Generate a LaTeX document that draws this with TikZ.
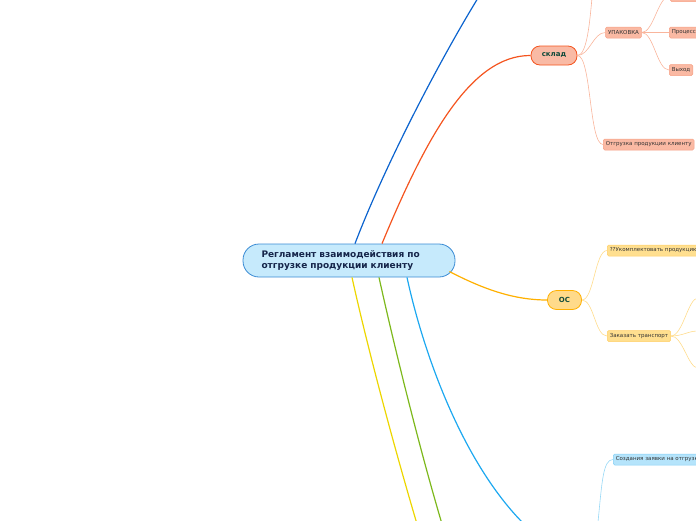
\documentclass[tikz,border=0pt]{standalone}
\usepackage{fontspec}
\setmainfont{DejaVu Sans}
\usepackage{xcolor}
\usepackage{tikz}
\usetikzlibrary{positioning,calc}
\definecolor{rootFill}{HTML}{C6EAFC}
\definecolor{rootLine}{HTML}{3A8BD4}
\definecolor{rootText}{HTML}{15254A}
\definecolor{topText}{HTML}{0F4A3A}
\definecolor{branchBlue}{HTML}{0B63CE}
\definecolor{branchRed}{HTML}{F4541F}
\definecolor{branchGold}{HTML}{FFB000}
\definecolor{branchSky}{HTML}{1DA8F0}
\definecolor{branchGreen}{HTML}{7DB81C}
\definecolor{branchYellow}{HTML}{EDD600}
\definecolor{skladFill}{HTML}{F9BAA5}
\definecolor{skladSub}{HTML}{FAB9A3}
\definecolor{skladSubLine}{HTML}{F6A084}
\definecolor{skladLink}{HTML}{F9B59C}
\definecolor{osFill}{HTML}{FFDA8A}
\definecolor{osSub}{HTML}{FFDF8F}
\definecolor{osSubLine}{HTML}{FFCF66}
\definecolor{osLink}{HTML}{FFDC8C}
\definecolor{skyFill}{HTML}{B5E4FB}
\definecolor{skySubLine}{HTML}{86D0F5}
\definecolor{skyLink}{HTML}{97D8F6}

\begin{document}
\begin{tikzpicture}[x=1pt,y=-1pt,
    rootbox/.style={draw=rootLine, fill=rootFill, line width=0.8pt, rounded corners=16pt,
        minimum width=212pt, minimum height=33pt, text width=175pt, align=left,
        inner xsep=0pt, text=rootText, font=\fontsize{9}{11}\selectfont\bfseries},
    topicbox/.style={line width=0.8pt, rounded corners=9pt, minimum height=19pt,
        inner sep=0pt, text=topText, font=\fontsize{7}{8}\selectfont\bfseries},
    subbox/.style={line width=0.5pt, rounded corners=1.5pt, minimum height=11pt,
        inner xsep=2.5pt, inner ysep=0pt, text=black!80, font=\fontsize{5.5}{6}\selectfont},
    mainlink/.style={line width=1.2pt},
    sublink/.style={line width=0.6pt}]

    \useasboundingbox (0,0) rectangle (696,520);
    \clip (0,0) rectangle (696,520);

    % Root
    \node[rootbox] (root) at (349,260.5) {Регламент взаимодействия по\\отгрузке продукции клиенту};

    % Off-page ends of main branches
    \coordinate (blueEnd) at (478,-2);
    \coordinate (skyEnd) at (524,524);
    \coordinate (greenEnd) at (442,524);
    \coordinate (yellowEnd) at (417,524);

    % Topic: склад
    \node[topicbox, draw=branchRed, fill=skladFill, minimum width=46pt] (sklad) at (554,55.5) {склад};
    \node[subbox, draw=skladSubLine, fill=skladSub] (upak) at (623.5,32.5) {УПАКОВКА};
    \node[subbox, draw=skladSubLine, fill=skladSub, anchor=west] (otgr) at (603,144.5) {Отгрузка продукции клиенту};
    \node[subbox, draw=skladSubLine, fill=skladSub, anchor=west] (process) at (669,32.5) {Процесс};
    \node[subbox, draw=skladSubLine, fill=skladSub, anchor=west] (vyhod) at (669,70) {Выход};
    \node[subbox, draw=skladSubLine, fill=skladSub, anchor=west, minimum width=40pt] (vhod) at (670,-4) {};
    \coordinate (skladUp) at (592,-2);

    % Topic: ОС
    \node[topicbox, draw=branchGold, fill=osFill, minimum width=34pt] (os) at (564.5,300) {ОС};
    \node[subbox, draw=osSubLine, fill=osSub, anchor=west] (ukompl) at (607,250.5) {??Укомплектовать продукцию};
    \node[subbox, draw=osSubLine, fill=osSub, anchor=west] (zakaz) at (607,336) {Заказать транспорт};
    \coordinate (zakazA) at (698,298);
    \coordinate (zakazB) at (698,331);
    \coordinate (zakazC) at (698,368);

    % Sky branch child
    \node[subbox, draw=skySubLine, fill=skyFill, anchor=west] (sozd) at (613,459.5) {Создания заявки на отгрузку};
    \coordinate (sozdIn) at (598,522);

    % Main branches
    \draw[mainlink, branchBlue] ($(root.north)+(6,0)$) .. controls (385,165) and (440,60) .. (blueEnd);
    \draw[mainlink, branchRed] ($(root.north)+(33,0)$) .. controls (425,140) and (470,55) .. (sklad.west);
    \draw[mainlink, branchGold] ($(root.east)+(-6,11)$) .. controls (485,290) and (515,300) .. (os.west);
    \draw[mainlink, branchSky] ($(root.south)+(58,0)$) .. controls (425,360) and (465,465) .. (skyEnd);
    \draw[mainlink, branchGreen] ($(root.south)+(30,0)$) .. controls (395,350) and (420,450) .. (greenEnd);
    \draw[mainlink, branchYellow] ($(root.south)+(3,0)$) .. controls (368,350) and (395,450) .. (yellowEnd);

    % склад links
    \draw[sublink, skladLink] (sklad.east) .. controls +(10,0) and +(-2,20) .. (skladUp);
    \draw[sublink, skladLink] (sklad.east) .. controls +(12,0) and +(-12,0) .. (upak.west);
    \draw[sublink, skladLink] (sklad.east) .. controls +(14,0) and +(-14,0) .. (otgr.west);
    \draw[sublink, skladLink] (upak.east) .. controls +(12,0) and +(-12,0) .. (vhod.west);
    \draw[sublink, skladLink] (upak.east) -- (process.west);
    \draw[sublink, skladLink] (upak.east) .. controls +(12,0) and +(-12,0) .. (vyhod.west);

    % ОС links
    \draw[sublink, osLink] (os.east) .. controls +(12,0) and +(-12,0) .. (ukompl.west);
    \draw[sublink, osLink] (os.east) .. controls +(12,0) and +(-12,0) .. (zakaz.west);
    \draw[sublink, osLink] (zakaz.east) .. controls +(12,0) and +(-10,0) .. (zakazA);
    \draw[sublink, osLink] (zakaz.east) .. controls +(12,0) and +(-10,0) .. (zakazB);
    \draw[sublink, osLink] (zakaz.east) .. controls +(12,0) and +(-10,0) .. (zakazC);

    % Sky links
    \draw[sublink, skyLink] (sozdIn) .. controls +(4,-40) and +(-10,0) .. (sozd.west);
\end{tikzpicture}
\end{document}
